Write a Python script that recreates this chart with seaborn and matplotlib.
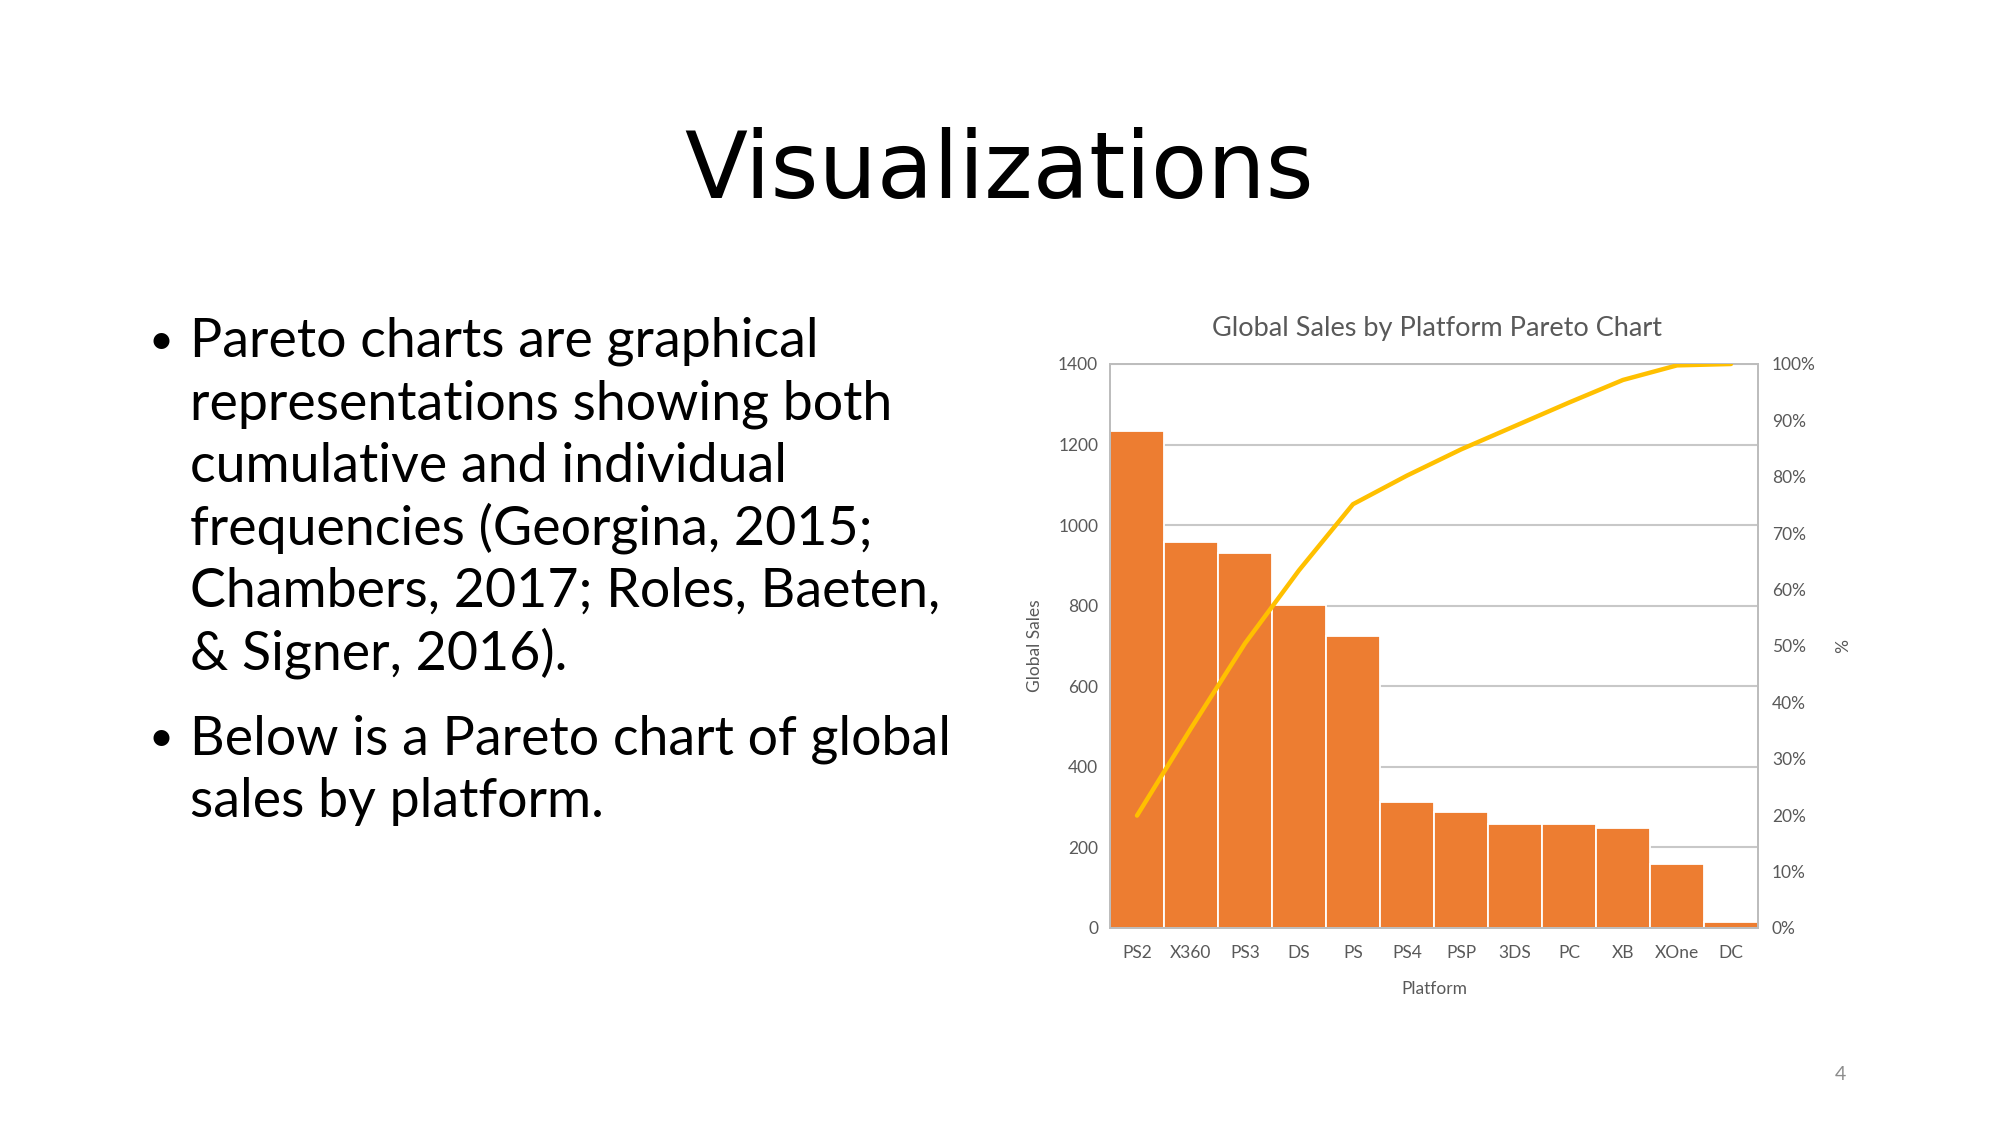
import numpy as np
import pandas as pd
import matplotlib
matplotlib.use("Agg")
import matplotlib.pyplot as plt
import seaborn as sns
from matplotlib.ticker import FixedLocator, FuncFormatter

# ---------------- data ----------------
platforms = ["PS2", "X360", "PS3", "DS", "PS", "PS4", "PSP", "3DS", "PC", "XB", "XOne", "DC"]
global_sales = [1233, 958, 931, 802, 725, 314, 287, 257, 257, 248, 160, 15]
sales_ticks = [0, 200, 400, 600, 800, 1000, 1200, 1400]
pct_ticks = [0.0, 0.1, 0.2, 0.3, 0.4, 0.5, 0.6, 0.7, 0.8, 0.9, 1.0]

slide_title = "Visualizations"
chart_title = "Global Sales by Platform Pareto Chart"
bullet_1 = ["Pareto charts are graphical",
            "representations showing both",
            "cumulative and individual",
            "frequencies (Georgina, 2015;",
            "Chambers, 2017; Roles, Baeten,",
            "& Signer, 2016)."]
bullet_2 = ["Below is a Pareto chart of global",
            "sales by platform."]
page_number = "4"

# ---------------- style ----------------
sns.set_theme(style="white")
plt.rcParams["font.family"] = ["Lato", "DejaVu Sans"]

W, H = 2001, 1125
fig = plt.figure(figsize=(W / 100, H / 100), dpi=100)
fig.patch.set_facecolor("white")

ORANGE = "#ED7D31"
GOLD = "#FFC000"
GREY_TXT = "#595959"
GRID = "#c8c8c8"

# ---------------- chart ----------------
ax = fig.add_axes([1110 / W, 1 - 928 / H, 648 / W, 564 / H])
df = pd.DataFrame({"Platform": platforms, "Global Sales": global_sales})
df["cum"] = df["Global Sales"].cumsum() / df["Global Sales"].sum()

sns.barplot(data=df, x="Platform", y="Global Sales", color=ORANGE, saturation=1,
            width=1.0, edgecolor="white", linewidth=1.3, ax=ax, zorder=2)
ax.set_axisbelow(True)
ax.yaxis.grid(True, color=GRID, lw=1.5)
ax.xaxis.grid(False)
ax.set_ylim(0, 1400)
ax.yaxis.set_major_locator(FixedLocator(sales_ticks))

ax2 = ax.twinx()
sns.lineplot(x=np.arange(len(platforms)), y=df["cum"].values, ax=ax2,
             color=GOLD, lw=3.2, zorder=3)
ax2.set_ylim(0, 1)
ax2.yaxis.set_major_locator(FixedLocator(pct_ticks))
ax2.yaxis.set_major_formatter(FuncFormatter(lambda v, p: f"{v*100:.0f}%"))
ax2.grid(False)
ax.set_xlim(-0.5, len(platforms) - 0.5)

for a in (ax, ax2):
    for s in a.spines.values():
        s.set_visible(True)
        s.set_color("#bdbdbd")
        s.set_linewidth(1.4)

ax.tick_params(axis="y", length=0, pad=8.5, labelsize=12.5, labelcolor=GREY_TXT)
ax.tick_params(axis="x", length=0, pad=12.5, labelsize=12.5, labelcolor=GREY_TXT)
ax2.tick_params(axis="y", length=0, pad=10, labelsize=12.5, labelcolor=GREY_TXT)

ax.set_xlabel("Platform", fontsize=12.5, color=GREY_TXT, labelpad=14)
ax.set_ylabel("Global Sales", fontsize=12.5, color=GREY_TXT, labelpad=10.5)
ax2.set_ylabel("%", fontsize=12.5, color=GREY_TXT, rotation=270, labelpad=22)

fig.text(1437 / W, 1 - 336 / H, chart_title, ha="center", va="baseline",
         fontsize=19.5, color=GREY_TXT)

# ---------------- slide text ----------------
fig.text(999 / W, 1 - 198 / H, slide_title, ha="center", va="baseline",
         fontsize=66.3, color="black", family="DejaVu Sans")

text_x = 190 / W
bullet_x = 161 / W
fs = 38.7
y0 = 357
step = 62.5
for i, line in enumerate(bullet_1):
    yb = 1 - (y0 + i * step) / H
    fig.text(text_x, yb, line, ha="left", va="baseline", fontsize=fs, color="black")
fig.text(bullet_x, 1 - (y0 - 3) / H, "\u2022", ha="center", va="baseline", fontsize=31, color="black")
y1 = 754
for i, line in enumerate(bullet_2):
    yb = 1 - (y1 + i * step) / H
    fig.text(text_x, yb, line, ha="left", va="baseline", fontsize=fs, color="black")
fig.text(bullet_x, 1 - (y1 - 3) / H, "\u2022", ha="center", va="baseline", fontsize=31, color="black")

fig.text(1840 / W, 1 - 1074 / H, page_number, ha="center", va="center",
         fontsize=14, color="#8c8c8c")

fig.savefig("out.png", dpi=100, facecolor="white")
